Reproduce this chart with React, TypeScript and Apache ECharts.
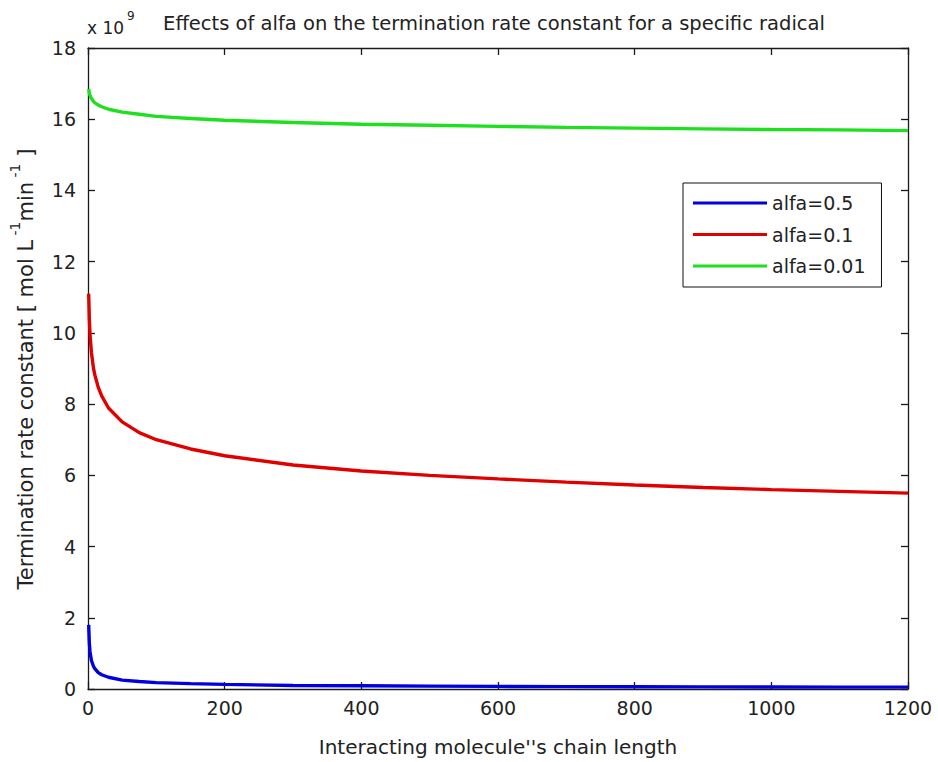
import React, { useEffect, useRef } from "react";
import * as echarts from "echarts";

const chainLength = [1, 2, 3, 5, 8, 10, 15, 20, 30, 50, 75, 100, 150, 200, 300, 400, 500, 600, 700, 800, 900, 1000, 1100, 1200];
const alfa05 = [1.8, 1.27, 1.04, 0.8, 0.64, 0.57, 0.46, 0.4, 0.33, 0.25, 0.21, 0.18, 0.15, 0.13, 0.1, 0.09, 0.08, 0.073, 0.068, 0.064, 0.06, 0.057, 0.054, 0.052];
const alfa01 = [11.1, 10.36, 9.94, 9.45, 9.01, 8.82, 8.47, 8.23, 7.89, 7.5, 7.2, 7.0, 6.74, 6.55, 6.29, 6.12, 6.0, 5.9, 5.81, 5.73, 5.66, 5.6, 5.55, 5.5];
const alfa001 = [16.85, 16.73, 16.67, 16.58, 16.5, 16.46, 16.4, 16.35, 16.28, 16.2, 16.14, 16.08, 16.02, 15.97, 15.91, 15.86, 15.83, 15.8, 15.77, 15.75, 15.73, 15.71, 15.7, 15.68];
const seriesNames = ["alfa=0.5", "alfa=0.1", "alfa=0.01"];
const seriesColors = ["#0000e0", "#e00000", "#1fe01f"];

const FONT = "'DejaVu Sans', 'Liberation Sans', Arial, sans-serif";
const TXT = "#222";

export default function App() {
  const ref = useRef<HTMLDivElement>(null);
  useEffect(() => {
    if (!ref.current) return;
    const chart = echarts.init(ref.current, null, { renderer: "svg" });
    const pairs = (ys: number[]) => chainLength.map((x, i) => [x, ys[i]]);
    const allData = [alfa05, alfa01, alfa001];
    const axisLineStyle = { color: "#1a1a1a", width: 1.3 };
    const xBase = {
      type: "value",
      min: 0,
      max: 1200,
      interval: 200,
      splitLine: { show: false },
      axisLine: { show: true, onZero: false, lineStyle: axisLineStyle },
      axisTick: { show: true, inside: true, length: 7, lineStyle: axisLineStyle },
    };
    const yBase = {
      type: "value",
      min: 0,
      max: 18,
      interval: 2,
      splitLine: { show: false },
      axisLine: { show: true, onZero: false, lineStyle: axisLineStyle },
      axisTick: { show: true, inside: true, length: 7, lineStyle: axisLineStyle },
    };
    chart.setOption({
      animation: false,
      backgroundColor: "#ffffff",
      grid: { left: 88, right: 30, top: 48, bottom: 70, containLabel: false },
      xAxis: [
        {
          ...xBase,
          position: "bottom",
          name: "Interacting molecule''s chain length",
          nameLocation: "middle",
          nameGap: 48,
          nameTextStyle: { fontFamily: FONT, fontSize: 20, color: TXT },
          axisLabel: {
            fontFamily: FONT,
            fontSize: 19,
            color: TXT,
            margin: 9,
            formatter: (v: number) => String(v),
          },
        },
        { ...xBase, position: "top", axisLabel: { show: false } },
      ],
      yAxis: [
        {
          ...yBase,
          position: "left",
          axisLabel: {
            fontFamily: FONT,
            fontSize: 19,
            color: TXT,
            margin: 12,
            formatter: (v: number) => String(v),
          },
        },
        { ...yBase, position: "right", axisLabel: { show: false } },
      ],
      legend: {
        show: true,
        orient: "vertical",
        left: 683,
        top: 183,
        data: seriesNames,
        icon: "rect",
        itemWidth: 74,
        itemHeight: 3,
        itemGap: 11.5,
        padding: [10, 16, 11, 10],
        borderColor: "#111",
        borderWidth: 1,
        backgroundColor: "#fff",
        textStyle: { fontFamily: FONT, fontSize: 19, color: TXT, lineHeight: 20 },
      },
      graphic: [
        {
          type: "text",
          x: 494,
          y: 23,
          style: {
            text: "Effects of alfa on the termination rate constant for a specific radical",
            fontFamily: FONT,
            fontSize: 19.5,
            fill: TXT,
            align: "center",
            verticalAlign: "middle",
          },
        },
        {
          type: "text",
          left: 87,
          top: 10,
          style: {
            text: "{a|x 10}{b|9}",
            rich: {
              a: { fontFamily: FONT, fontSize: 17, fill: TXT, verticalAlign: "bottom", lineHeight: 26 },
              b: { fontFamily: FONT, fontSize: 12, fill: TXT, verticalAlign: "top", lineHeight: 26, padding: [0, 0, 10, 3] },
            },
          },
        },
        {
          type: "text",
          x: 22,
          y: 369,
          rotation: Math.PI / 2,
          style: {
            text: "{a|Termination rate constant [ mol L}{s| -1}{a|min}{s| -1}{a| ]}",
            align: "center",
            verticalAlign: "middle",
            rich: {
              a: { fontFamily: FONT, fontSize: 21, fill: TXT, lineHeight: 28, verticalAlign: "bottom" },
              s: { fontFamily: FONT, fontSize: 14, fill: TXT, lineHeight: 28, verticalAlign: "top", padding: [0, 0, 12, 0] },
            },
          },
        },
      ],
      series: allData.map((ys, i) => ({
        name: seriesNames[i],
        type: "line",
        xAxisIndex: 0,
        yAxisIndex: 0,
        data: pairs(ys),
        showSymbol: false,
        symbol: "none",
        smooth: false,
        lineStyle: { color: seriesColors[i], width: 3.4 },
        itemStyle: { color: seriesColors[i] },
      })),
    });
    return () => chart.dispose();
  }, []);
  return (
    <div
      ref={ref}
      style={{ position: "fixed", left: 0, top: 0, width: 938, height: 762 }}
    />
  );
}
